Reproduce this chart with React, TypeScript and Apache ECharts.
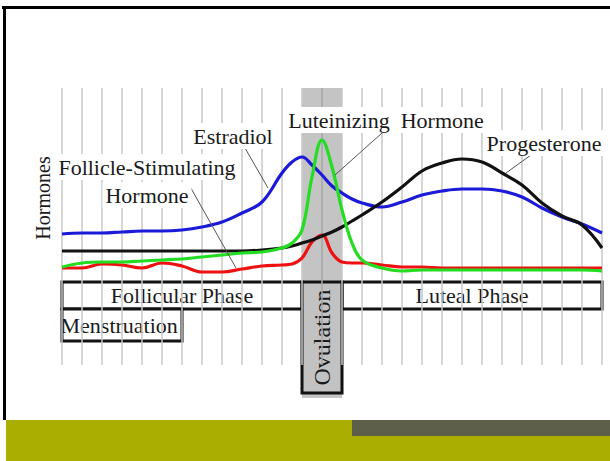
import React, { useEffect, useRef } from "react";
import * as echarts from "echarts";

// Cycle days (x) — finer steps around ovulation
const days = [1, 2, 3, 4, 5, 6, 7, 8, 9, 10, 11, 12, 12.5, 13, 13.5, 14, 14.5, 15, 15.5, 16, 17, 18, 19, 20, 21, 22, 23, 24, 25, 26, 27, 28];

// Hormone levels (arbitrary units)
const estradiol = [46, 47, 47, 48, 49, 49, 50, 53, 58, 67, 78, 107, 118, 123, 115, 105, 94, 87, 81, 77, 73, 78, 85, 89, 91, 91, 89, 83, 72, 63, 56, 47];
const progesterone = [29, 29, 29, 29, 29, 29, 29, 29, 29, 29, 30, 32, 34, 37, 40, 44, 48, 53, 59, 65, 78, 93, 109, 117, 121, 118, 107, 95, 77, 64, 55, 32];
const lh = [13, 17, 18, 18, 19, 20, 21, 23, 25, 27, 28, 32, 37, 50, 103, 140, 113, 70, 37, 20, 12, 9, 10, 10, 10, 10, 10, 10, 10, 10, 10, 9];
const fsh = [12, 12, 16, 15, 12, 17, 14, 8, 8, 11, 14, 15, 16, 22, 38, 45, 27, 18, 17, 17, 15, 13, 13, 12, 12, 12, 12, 12, 12, 12, 12, 12];

// Vertical guide days
const guideDays = Array.from({ length: 28 }, (_, i) => i + 1);

// Phases
const phaseNames = ["Follicular Phase", "Luteal Phase", "Menstruation", "Ovulation"];
const phaseStart = [1, 15, 1, 13];
const phaseEnd = [13, 28, 7, 15];

const SERIF = "'Liberation Serif', 'DejaVu Serif', serif";

export default function App() {
  const ref = useRef<HTMLDivElement>(null);
  useEffect(() => {
    if (!ref.current) return;
    const chart = echarts.init(ref.current, undefined, { renderer: "svg" });
    const pair = (arr: number[]) => days.map((d, i) => [d, arr[i]]);
    const TOP = 192;
    const GUIDE_BOTTOM = -85;
    const BAND_BOTTOM = -118;

    const boxLabel = (extra: any = {}) => ({
      show: true,
      position: "inside",
      color: "#1a1a1a",
      fontFamily: SERIF,
      fontSize: 22,
      ...extra,
    });
    const boxStyle = (fill: string) => ({ color: fill, borderColor: "#111", borderWidth: 3, opacity: 1 });

    const phaseY = [
      [-2, -29],
      [-2, -29],
      [-29, -61],
      [-2, -113],
    ];
    const phaseAreas = phaseNames.map((name, i) => [
      {
        name,
        xAxis: phaseStart[i],
        yAxis: phaseY[i][0],
        itemStyle: boxStyle(i === 3 ? "#c2c2c2" : "#ffffff"),
        label:
          i === 3
            ? boxLabel({ rotate: 90, fontSize: 24 })
            : i === 2
            ? boxLabel({ position: "insideLeft", distance: 0 })
            : boxLabel(),
      },
      { xAxis: phaseEnd[i], yAxis: phaseY[i][1] },
    ]);

    const curve = (name: string, arr: number[], color: string, z: number) => ({
      name,
      type: "line",
      data: pair(arr),
      smooth: 0.4,
      symbol: "none",
      z,
      lineStyle: { color, width: 3.2 },
      silent: true,
    });

    const txt = (text: string, x: number, y: number, extra: any = {}) => ({
      type: "text",
      x,
      y,
      z: 100,
      ...extra,
      style: {
        text,
        font: `22px ${SERIF}`,
        fill: "#1a1a1a",
        align: "center",
        verticalAlign: "middle",
        backgroundColor: "#ffffff",
        padding: [2, 3],
        ...(extra.style || {}),
      },
    });
    const ptr = (x1: number, y1: number, x2: number, y2: number) => ({
      type: "line",
      z: 100,
      shape: { x1, y1, x2, y2 },
      style: { stroke: "#555", lineWidth: 1 },
    });

    chart.setOption({
      animation: false,
      backgroundColor: "#ffffff",
      grid: { left: 62, right: 8, top: 88, bottom: 63 },
      xAxis: { type: "value", min: 1, max: 28, show: false },
      yAxis: { type: "value", min: BAND_BOTTOM, max: TOP, show: false },
      series: [
        {
          name: "band",
          type: "line",
          data: [],
          z: 1,
          silent: true,
          markArea: {
            silent: true,
            itemStyle: { color: "#c4c4c4", opacity: 1 },
            data: [[{ xAxis: 13, yAxis: TOP }, { xAxis: 15, yAxis: BAND_BOTTOM }]],
          },
        },
        {
          name: "guides",
          type: "line",
          data: [],
          z: 2,
          silent: true,
          markLine: {
            silent: true,
            symbol: "none",
            label: { show: false },
            lineStyle: { color: "#c9c9c9", width: 1.5, type: "solid" },
            data: guideDays.map((d) => [
              { coord: [d, TOP], lineStyle: d === 14 ? { color: "#a6a6a6" } : undefined },
              { coord: [d, GUIDE_BOTTOM] },
            ]),
          },
        },
        {
          name: "phases",
          type: "line",
          data: [],
          z: 3,
          silent: true,
          markArea: { silent: true, data: phaseAreas },
        },
        curve("Follicle-Stimulating Hormone", fsh, "#ee1111", 5),
        curve("Estradiol", estradiol, "#1a1ad8", 6),
        curve("Progesterone", progesterone, "#111111", 7),
        curve("Luteinizing Hormone", lh, "#22dd22", 8),
      ],
      graphic: [
        { type: "line", z: 100, shape: { x1: 2, y1: 7.5, x2: 610, y2: 7.5 }, style: { stroke: "#000", lineWidth: 3 } },
        { type: "line", z: 100, shape: { x1: 4.5, y1: 6, x2: 4.5, y2: 420 }, style: { stroke: "#000", lineWidth: 3 } },
        { type: "rect", z: 100, shape: { x: 6, y: 420, width: 604, height: 41 }, style: { fill: "#a9ae00" } },
        { type: "rect", z: 101, shape: { x: 352, y: 420, width: 258, height: 16 }, style: { fill: "#5e5f4b" } },
        ptr(245, 148, 268, 188),
        ptr(188, 183, 236, 268),
        ptr(382, 133, 335, 175),
        ptr(531, 155, 506, 173),
        txt("Estradiol", 233, 136),
        txt("Follicle-Stimulating", 147, 167),
        txt("Hormone", 147, 195),
        txt("Luteinizing  Hormone", 386, 120),
        txt("Progesterone", 544, 143),
        txt("Hormones", 43, 198, { rotation: Math.PI / 2, style: { font: `20px ${SERIF}` } }),
      ],
    });
    return () => chart.dispose();
  }, []);
  return (
    <div
      ref={ref}
      style={{ position: "fixed", left: 0, top: 0, width: 610, height: 461 }}
    />
  );
}
